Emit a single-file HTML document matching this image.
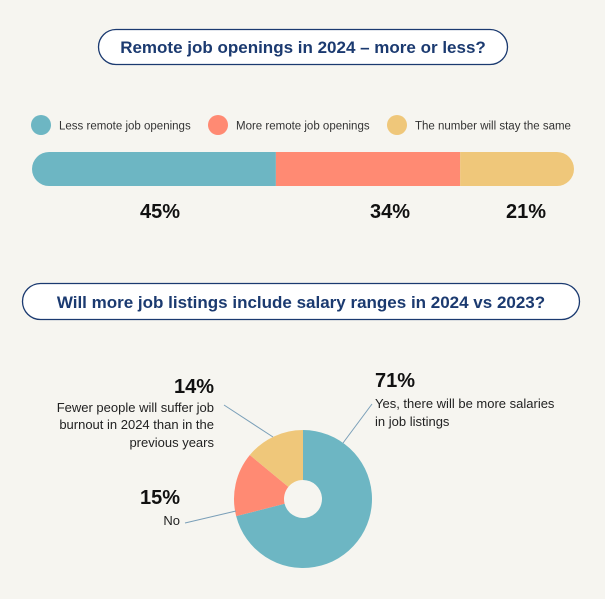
<!DOCTYPE html>
<html><head><meta charset="utf-8"><style>
body{margin:0;background:#f6f5f0;font-family:"Liberation Sans",sans-serif}
svg{display:block}
</style></head><body>
<svg width="605" height="599" viewBox="0 0 605 599" xmlns="http://www.w3.org/2000/svg">
<rect width="605" height="599" fill="#f6f5f0"/>
<g>
<rect x="98.5" y="29.5" width="409" height="35" rx="17.5" fill="#fff" stroke="#1b3a70" stroke-width="1.3"/>
<text x="303" y="53" text-anchor="middle" font-size="17" font-weight="bold" fill="#1b3a70">Remote job openings in 2024 – more or less?</text>
</g>
<g id="legend"></g>
<g id="bar"></g>
<g>
<rect x="22.5" y="283.5" width="557" height="36" rx="18" fill="#fff" stroke="#1b3a70" stroke-width="1.3"/>
<text x="301" y="308" text-anchor="middle" font-size="17" font-weight="bold" fill="#1b3a70">Will more job listings include salary ranges in 2024 vs 2023?</text>
</g>
<g id="donut"></g>
<g font-size="13" fill="#222">
<line x1="343" y1="443" x2="372" y2="404" stroke="#7a9fb8" stroke-width="1"/>
<line x1="273" y1="437" x2="224" y2="405" stroke="#7a9fb8" stroke-width="1"/>
<line x1="236" y1="511" x2="185" y2="523" stroke="#7a9fb8" stroke-width="1"/>
<text x="375" y="387" font-size="20" font-weight="bold" fill="#111">71%</text>
<text x="375" y="408">Yes, there will be more salaries</text>
<text x="375" y="426">in job listings</text>
<text x="214" y="393" text-anchor="end" font-size="20" font-weight="bold" fill="#111">14%</text>
<text x="214" y="412" text-anchor="end">Fewer people will suffer job</text>
<text x="214" y="429" text-anchor="end">burnout in 2024 than in the</text>
<text x="214" y="447" text-anchor="end">previous years</text>
<text x="180" y="504" text-anchor="end" font-size="20" font-weight="bold" fill="#111">15%</text>
<text x="180" y="525" text-anchor="end">No</text>
</g>
</svg>
<script>
const barCategories=["Less remote job openings","More remote job openings","The number will stay the same"];
const barValues=[45,34,21];
const barLabels=["45%","34%","21%"];
const donutCategories=["Yes","No","Fewer burnout"];
const donutValues=[71,15,14];
const colors=["#6db6c3","#ff8a73","#efc77a"];
const NS="http://www.w3.org/2000/svg";
function mk(t,a,p){const e=document.createElementNS(NS,t);for(const k in a)e.setAttribute(k,a[k]);p.appendChild(e);return e;}
// legend
const lg=document.getElementById('legend');
const lx=[41,218,397];
barCategories.forEach((c,i)=>{
  const g=mk('g',{},lg);
  
  
  mk('circle',{cx:lx[i],cy:125,r:10,fill:colors[i]},g);
  const t=mk('text',{x:lx[i]+18,y:129.5,'font-size':11.5,fill:'#333'},g);t.textContent=c;
});
// bar
const bg=document.getElementById('bar');
const bx0=32,bx1=574,by=152,bh=34;
const tot=barValues.reduce((a,b)=>a+b,0);
const xs=v=>bx0+(bx1-bx0)*v/tot;
const defs=mk('defs',{},bg);
const cp=mk('clipPath',{id:'bc'},defs);
mk('rect',{x:bx0,y:by,width:bx1-bx0,height:bh,rx:17},cp);
let acc=0;
const labelX=[160,390,526];
barValues.forEach((v,i)=>{
  const r=mk('rect',{x:xs(acc),y:by,width:xs(acc+v)-xs(acc),height:bh,fill:colors[i],'clip-path':'url(#bc)'},bg);
  
  
  const t=mk('text',{x:labelX[i],y:218,'text-anchor':'middle','font-size':20,'font-weight':'bold',fill:'#111'},bg);
  
  
  t.textContent=barLabels[i];
  acc+=v;
});
// donut
const dg=document.getElementById('donut');
const cx=303,cy=499,R=69,r0=19;
const dt=donutValues.reduce((a,b)=>a+b,0);
let a0=-Math.PI/2;
donutValues.forEach((v,i)=>{
  const a1=a0+2*Math.PI*v/dt;
  const large=(a1-a0)>Math.PI?1:0;
  const p=`M${cx+R*Math.cos(a0)},${cy+R*Math.sin(a0)} A${R},${R} 0 ${large} 1 ${cx+R*Math.cos(a1)},${cy+R*Math.sin(a1)} L${cx+r0*Math.cos(a1)},${cy+r0*Math.sin(a1)} A${r0},${r0} 0 ${large} 0 ${cx+r0*Math.cos(a0)},${cy+r0*Math.sin(a0)} Z`;
  const s=mk('path',{d:p,fill:colors[i]},dg);
  
  
  a0=a1;
});
</script>
</body></html>
